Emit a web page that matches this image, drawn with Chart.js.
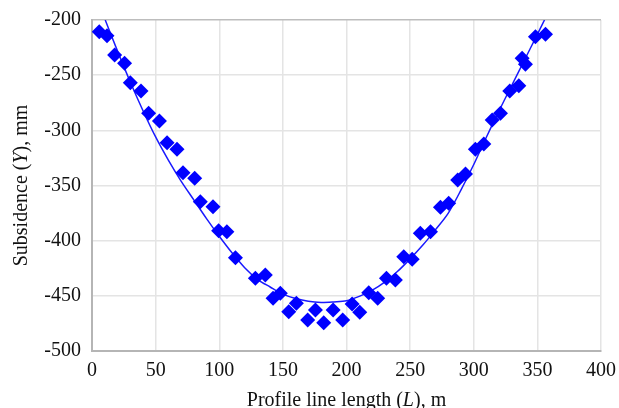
<!DOCTYPE html>
<html>
<head>
<meta charset="utf-8">
<script src="https://cdn.jsdelivr.net/npm/chart.js@4.4.1/dist/chart.umd.min.js"></script>
<style>
body { margin: 0; background: #fff; }
#caja { width: 619px; height: 408px; position: relative; }
</style>
</head>
<body>
<div id="caja"><canvas id="myChart"></canvas></div>
<script>
// puntos medidos (L en m, Y en mm)
let distancia = [5.7, 11.8, 17.8, 25.6, 30.1, 38.5, 44.5, 53, 59, 66.8, 71.5, 80.7, 85.1, 95.1, 99.5, 106,
    112.7, 128.4, 136.2, 142.3, 148, 154.6, 160.6, 169.5, 175.6, 182.1, 189.5, 197, 204.4, 210.4, 217.5,
    224.5, 231.4, 238.4, 245, 251.6, 258, 266, 273.8, 280.3, 287.4, 293.5, 301.3, 307.9, 314.5, 321,
    328.3, 335.4, 338, 340.6, 348.5, 356.4];
let hundimiento = [-210.6, -214.2, -231.7, -239.2, -256.8, -264.4, -284.6, -291.6, -311.2, -317.2, -338.4,
    -343.5, -364.7, -369.2, -391, -391.9, -415.4, -434.1, -431.1, -452.2, -447.7, -464.4, -456.8, -471.9,
    -462.8, -474.4, -462.8, -471.9, -457.4, -464.9, -447.2, -452.2, -434.1, -435.7, -414.5, -416.9,
    -393.3, -391.9, -369.8, -366.2, -345, -339.6, -317.2, -312.4, -290.6, -284.6, -264.4, -259.5,
    -234.7, -240.2, -215.1, -213];

// curva ajustada
let ajusteX = [10.4, 20, 30, 40, 50, 60, 70, 80, 90, 100, 110, 120, 130, 140, 150, 160, 170, 180, 190,
    200, 210, 220, 230, 240, 250, 260, 270, 280, 290, 300, 310, 320, 330, 340, 350, 355.6];
let ajusteY = [-200, -228, -256, -282, -306, -327, -346, -363, -380, -396, -411, -424.5, -435, -442,
    -448.5, -452.5, -455, -456, -455.5, -454.5, -450.5, -445, -437.5, -428, -416.5, -404, -390, -375,
    -354, -331, -306, -282, -259, -236, -213, -200];

let ticksX = [0, 50, 100, 150, 200, 250, 300, 350, 400];
let ticksY = [-500, -450, -400, -350, -300, -250, -200];

let tituloX = [['Profile line length (', false], ['L', true], ['), m', false]];
let tituloY = [['Subsidence (', false], ['Y', true], ['), mm', false]];

function fuente(italica) {
    return (italica ? 'italic ' : '') + '20px "Liberation Serif"';
}

function dibujarTitulo(ctx, partes, cx, cy, angulo) {
    let total = 0;
    partes.forEach(p => {
        ctx.font = fuente(p[1]);
        total += ctx.measureText(p[0]).width;
    });
    ctx.save();
    ctx.translate(cx, cy);
    ctx.rotate(angulo);
    let x = -total / 2;
    partes.forEach(p => {
        ctx.font = fuente(p[1]);
        ctx.fillText(p[0], x, 0);
        x += ctx.measureText(p[0]).width;
    });
    ctx.restore();
}

const titulos = {
    id: 'titulos',
    afterDraw(chart) {
        const ctx = chart.ctx;
        const area = chart.chartArea;
        ctx.save();
        ctx.fillStyle = '#111';
        ctx.textBaseline = 'alphabetic';
        ctx.textAlign = 'left';
        dibujarTitulo(ctx, tituloX, (area.left + area.right) / 2, 406, 0);
        dibujarTitulo(ctx, tituloY, 27, (area.top + area.bottom) / 2, -Math.PI / 2);
        ctx.restore();
    }
};

let puntos = distancia.map((d, i) => ({ x: d, y: hundimiento[i] }));
let curva = ajusteX.map((d, i) => ({ x: d, y: ajusteY[i] }));

const fuenteTicks = { family: '"Liberation Serif"', size: 20 };

var ctx = document.getElementById('myChart').getContext('2d');
var myChart = new Chart(ctx, {
    type: 'scatter',
    data: {
        datasets: [{
            label: 'Measured',
            data: puntos,
            pointStyle: 'rectRot',
            pointRadius: 7.5,
            backgroundColor: '#0000ff',
            borderColor: '#0000ff',
            borderWidth: 0,
            order: 1
        }, {
            label: 'Fit',
            data: curva,
            showLine: true,
            pointRadius: 0,
            borderColor: '#1a1aff',
            borderWidth: 1.5,
            tension: 0.3,
            order: 2
        }]
    },
    options: {
        responsive: true,
        maintainAspectRatio: false,
        animation: false,
        layout: { padding: { left: 0, top: 20, right: 18, bottom: 0 } },
        plugins: {
            legend: { display: false },
            tooltip: { enabled: false }
        },
        scales: {
            x: {
                type: 'linear',
                min: 0,
                max: 400,
                afterBuildTicks: s => { s.ticks = ticksX.map(v => ({ value: v })); },
                afterFit: s => {
                    s.height = 57;
                    s.paddingLeft = 0;
                    s.paddingRight = 0;
                },
                ticks: { font: fuenteTicks, color: '#111', padding: 8 },
                grid: {
                    drawTicks: false,
                    lineWidth: 1.5,
                    color: c => (c.tick && c.tick.value === 0 ? '#b5b5b5' : '#e4e4e4')
                },
                border: { color: '#b5b5b5', width: 2 }
            },
            y: {
                type: 'linear',
                min: -500,
                max: -200,
                afterBuildTicks: s => { s.ticks = ticksY.map(v => ({ value: v })); },
                afterFit: s => {
                    s.width = 92;
                    s.paddingTop = 0;
                    s.paddingBottom = 0;
                },
                ticks: { font: fuenteTicks, color: '#111', padding: 11 },
                grid: {
                    drawTicks: false,
                    lineWidth: 1.5,
                    color: c => (c.tick && c.tick.value === -200 ? '#bdbdbd' : '#e4e4e4')
                },
                border: { color: '#b5b5b5', width: 2 }
            }
        }
    },
    plugins: [titulos]
});
</script>
</body>
</html>
